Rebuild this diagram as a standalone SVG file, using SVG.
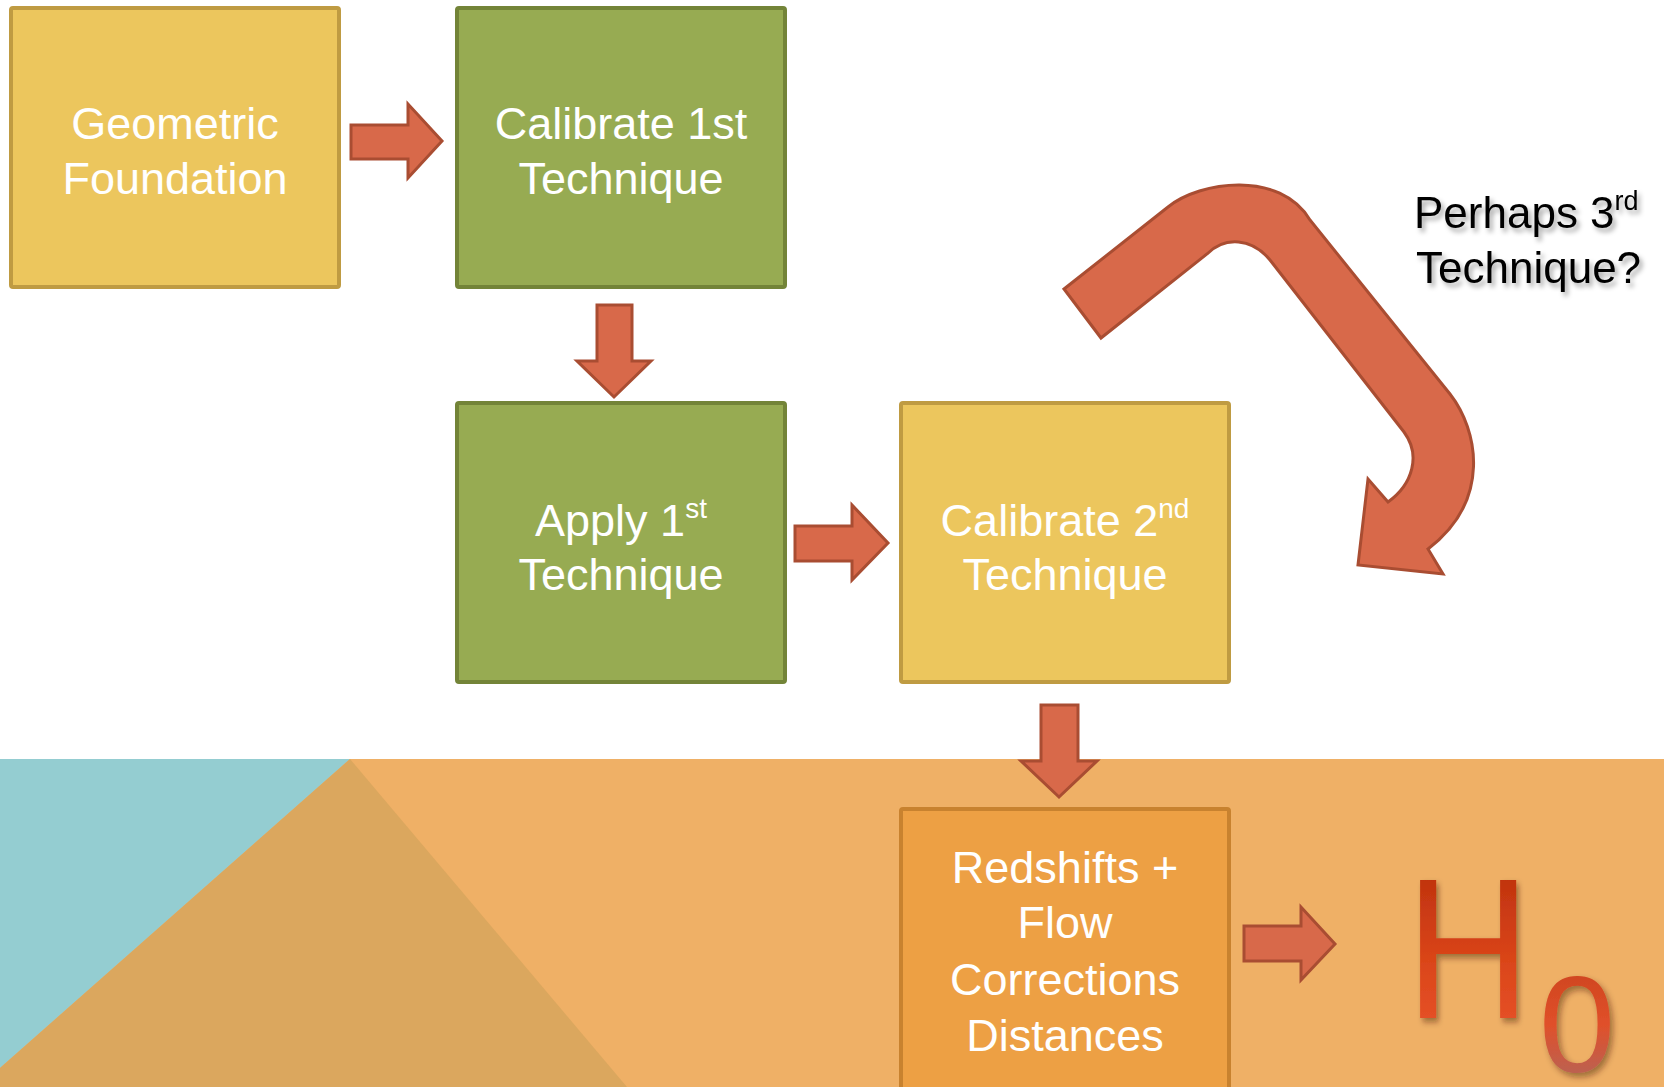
<svg xmlns="http://www.w3.org/2000/svg" width="1664" height="1087" viewBox="0 0 1664 1087">
  <style>
    .lbl { font-family: "Liberation Sans", Arial, sans-serif; font-size: 45px; fill: #ffffff; text-anchor: middle; }
    .sup { font-size: 28px; }
    .yellow { fill: #ECC65D; stroke: #BF9B42; stroke-width: 4; }
    .green { fill: #97AB52; stroke: #738438; stroke-width: 4; }
    .orange { fill: #EDA044; stroke: #C8822F; stroke-width: 4; }
    .arrow { fill: #D8694A; stroke: #A94D32; stroke-width: 3; stroke-linejoin: miter; }
    .note { font-family: "Liberation Sans", Arial, sans-serif; font-size: 44px; fill: #000000; }
  </style>
  <defs>
    <filter id="softShadow" x="-10%" y="-20%" width="130%" height="150%">
      <feDropShadow dx="3" dy="4" stdDeviation="2.5" flood-color="#000000" flood-opacity="0.35"/>
    </filter>
    <filter id="hShadow" x="-10%" y="-10%" width="130%" height="130%">
      <feDropShadow dx="3" dy="4" stdDeviation="3" flood-color="#3a1a00" flood-opacity="0.45"/>
    </filter>
    <linearGradient id="hGrad" x1="0" y1="0" x2="0" y2="1">
      <stop offset="0" stop-color="#B42A0A"/>
      <stop offset="0.55" stop-color="#DA4519"/>
      <stop offset="0.9" stop-color="#E8532A"/>
      <stop offset="1" stop-color="#8E2A10"/>
    </linearGradient>
    <linearGradient id="zeroGrad" x1="0" y1="0" x2="0" y2="1">
      <stop offset="0" stop-color="#C8401A"/>
      <stop offset="0.5" stop-color="#E0502A"/>
      <stop offset="1" stop-color="#A86A66"/>
    </linearGradient>
  </defs>

  <!-- page background and lower decorative band -->
  <g id="background">
    <rect x="0" y="0" width="1664" height="1087" fill="#ffffff"/>
    <rect x="0" y="759" width="1664" height="328" fill="#EFB066"/>
    <polygon points="0,759 350,759 0,1068" fill="#94CDD1"/>
    <polygon points="350,759 0,1068 0,1087 627,1087" fill="#DBA75E"/>
  </g>

  <!-- process boxes -->
  <g id="geometric-foundation">
    <rect class="yellow" x="11" y="8" width="328" height="279" rx="2"/>
    <text class="lbl" x="175" y="139">Geometric</text>
    <text class="lbl" x="175" y="194">Foundation</text>
  </g>

  <g id="calibrate-1st">
    <rect class="green" x="457" y="8" width="328" height="279" rx="2"/>
    <text class="lbl" x="621" y="139">Calibrate 1st</text>
    <text class="lbl" x="621" y="194">Technique</text>
  </g>

  <g id="apply-1st">
    <rect class="green" x="457" y="403" width="328" height="279" rx="2"/>
    <text class="lbl" x="621" y="536">Apply 1<tspan class="sup" dy="-18">st</tspan></text>
    <text class="lbl" x="621" y="590">Technique</text>
  </g>

  <g id="calibrate-2nd">
    <rect class="yellow" x="901" y="403" width="328" height="279" rx="2"/>
    <text class="lbl" x="1065" y="536">Calibrate 2<tspan class="sup" dy="-18">nd</tspan></text>
    <text class="lbl" x="1065" y="590">Technique</text>
  </g>

  <g id="redshifts">
    <rect class="orange" x="901" y="809" width="328" height="290" rx="2"/>
    <text class="lbl" x="1065" y="883">Redshifts +</text>
    <text class="lbl" x="1065" y="938">Flow</text>
    <text class="lbl" x="1065" y="995">Corrections</text>
    <text class="lbl" x="1065" y="1051">Distances</text>
  </g>

  <g id="perhaps-3rd" filter="url(#softShadow)">
    <text class="note" x="1414" y="228">Perhaps 3<tspan font-size="27" dy="-18">rd</tspan></text>
    <text class="note" x="1416" y="283">Technique?</text>
  </g>

  <g id="hubble-constant">
    <text transform="translate(1406,1018) scale(0.86,1)" x="0" y="0" font-family="Liberation Sans, Arial, sans-serif" font-size="200" fill="url(#hGrad)" filter="url(#hShadow)">H</text>
    <text x="1539" y="1072" font-family="Liberation Sans, Arial, sans-serif" font-size="137" fill="url(#zeroGrad)" filter="url(#hShadow)">0</text>
  </g>

  <!-- connectors: block arrows -->
  <g id="connectors">
    <polygon class="arrow" points="351,125 408,125 408,104 442,141 408,178 408,159 351,159"/>
    <polygon class="arrow" points="597,305 632,305 632,361 651,361 614,397 577,361 597,361"/>
    <polygon class="arrow" points="795,526 852,526 852,505 888,543 852,580 852,561 795,561"/>
    <polygon class="arrow" points="1041,705 1078,705 1078,761 1097,761 1059,797 1021,761 1041,761"/>
    <polygon class="arrow" points="1244,926 1301,926 1301,907 1335,944 1301,980 1301,961 1244,961"/>
    <path class="arrow" d="M1064,289 L1168,207 C1200,181 1280,170 1310,220 L1450,394 C1478,430 1492,500 1428,549 L1443,574 L1358,565 L1368,479 L1388,502 C1413,484 1421,455 1404,432 L1270,260 C1252,238 1225,236 1207,254 L1101,338 Z"/>
  </g>
</svg>
